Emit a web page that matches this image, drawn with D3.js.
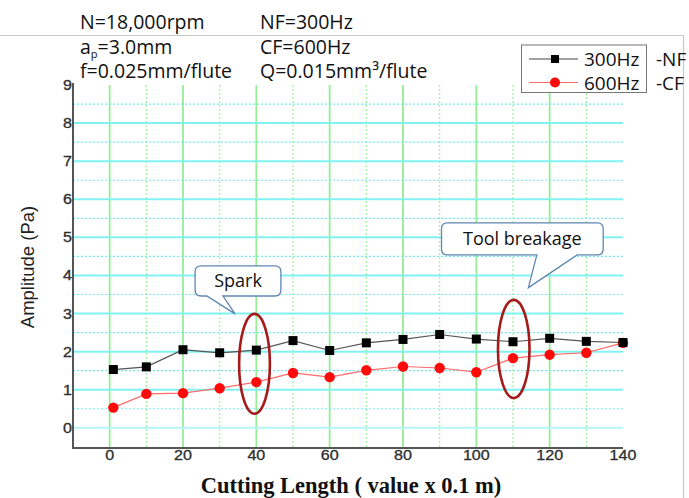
<!DOCTYPE html>
<html>
<head>
<meta charset="utf-8">
<script src="https://cdn.jsdelivr.net/npm/d3@7"></script>
<style>
  body { margin: 0; background: #fff; }
  svg { display: block; }
</style>
</head>
<body>
<div class="wrapper"></div>
<script>
// data
var cutLength = [1, 10, 20, 30, 40, 50, 60, 70, 80, 90, 100, 110, 120, 130, 140];
var amp300 = [1.53, 1.60, 2.05, 1.97, 2.04, 2.29, 2.03, 2.23, 2.32, 2.45, 2.33, 2.26, 2.35, 2.27, 2.24];
var amp600 = [0.53, 0.89, 0.91, 1.04, 1.20, 1.44, 1.33, 1.51, 1.61, 1.57, 1.46, 1.83, 1.92, 1.97, 2.23];
var xTicks = [0, 20, 40, 60, 80, 100, 120, 140];
var yTicks = [0, 1, 2, 3, 4, 5, 6, 7, 8, 9];
var legendLabels = ["300Hz", "600Hz"];
var legendSuffix = ["-NF", "-CF"];
var headerLeft = ["N=18,000rpm", "a_p=3.0mm", "f=0.025mm/flute"];
var headerRight = ["NF=300Hz", "CF=600Hz", "Q=0.015mm³/flute"];

// annotations, in data units: ellipse centre / radii, callout box + tail
var ellipses = [
  {cx: 39.5, cy: 1.68, rx: 4.2, ry: 1.31},
  {cx: 110.2, cy: 2.07, rx: 4.3, ry: 1.29}
];
var callouts = [
  {text: "Spark", x0: 23.3, x1: 46.7, y0: 4.25, y1: 3.46, t0: 26.5, t1: 30.9, tx: 34.2, ty: 2.99},
  {text: "Tool breakage", x0: 90.5, x1: 134.6, y0: 5.38, y1: 4.54, t0: 116.5, t1: 127.5, tx: 114.2, ty: 3.68}
];

var W = 689, H = 498;
var plot = {left: 73, right: 623, top: 85, bottom: 448};

var svg = d3.select(".wrapper")
  .append("svg")
    .attr("width", W)
    .attr("height", H);

var x = d3.scaleLinear().domain([-10, 140]).range([plot.left, plot.right]);
var y = d3.scaleLinear().domain([-0.53, 9]).range([plot.bottom, plot.top]);

// frame lines of the cropped figure
svg.append("path")
    .attr("d", "M0,35.5H683.5V498")
    .attr("fill", "none")
    .attr("stroke", "#c8c8c8")
    .attr("stroke-width", 1.2);

// grid
var grid = svg.append("g");
d3.range(10, 140, 20).forEach(function(v) {
  grid.append("line")
      .attr("x1", x(v)).attr("x2", x(v))
      .attr("y1", y(9)).attr("y2", plot.bottom)
      .attr("stroke", "#9ef29e").attr("stroke-width", 1.2)
      .attr("stroke-dasharray", "2,2");
});
xTicks.slice(0, -1).forEach(function(v) {
  grid.append("line")
      .attr("x1", x(v)).attr("x2", x(v))
      .attr("y1", y(9)).attr("y2", plot.bottom)
      .attr("stroke", "#96ee96").attr("stroke-width", 1.8);
});
d3.range(0.5, 9, 1).forEach(function(v) {
  grid.append("line")
      .attr("x1", plot.left).attr("x2", plot.right)
      .attr("y1", y(v)).attr("y2", y(v))
      .attr("stroke", "#6ff0f0").attr("stroke-width", 1.2)
      .attr("stroke-dasharray", "2,2");
});
yTicks.slice(0, -1).forEach(function(v) {
  grid.append("line")
      .attr("x1", plot.left).attr("x2", plot.right)
      .attr("y1", y(v)).attr("y2", y(v))
      .attr("stroke", v == 0 ? "#b4f6f6" : "#80f2f2").attr("stroke-width", 2);
});

// axes (no tick marks, only labels)
svg.append("line")
    .attr("x1", plot.left).attr("x2", plot.left).attr("y1", plot.top - 2).attr("y2", plot.bottom + 1)
    .attr("stroke", "#555").attr("stroke-width", 2);
svg.append("line")
    .attr("x1", plot.left).attr("x2", plot.right).attr("y1", plot.bottom).attr("y2", plot.bottom)
    .attr("stroke", "#555").attr("stroke-width", 2);

svg.append("g").selectAll("text")
  .data(yTicks)
  .enter().append("text")
    .attr("transform", function(d) { return "translate(72," + (y(d) + 5) + ") scale(1.15,1)"; })
    .attr("text-anchor", "end")
    .style("font", "14px 'Liberation Sans', Arial, sans-serif")
    .style("fill", "#2e2e2e")
    .style("stroke", "#2e2e2e").style("stroke-width", 0.3)
    .text(function(d) { return d; });

svg.append("g").selectAll("text")
  .data(xTicks)
  .enter().append("text")
    .attr("transform", function(d) { return "translate(" + x(d) + ",460) scale(1.15,1)"; })
    .attr("text-anchor", "middle")
    .style("font", "14px 'Liberation Sans', Arial, sans-serif")
    .style("fill", "#2e2e2e")
    .style("stroke", "#2e2e2e").style("stroke-width", 0.3)
    .text(function(d) { return d; });

svg.append("text")
    .attr("x", 351).attr("y", 493)
    .attr("text-anchor", "middle")
    .style("font", "bold 22.5px 'Liberation Serif', 'Times New Roman', serif")
    .style("fill", "#111")
    .text("Cutting Length ( value x 0.1 m)");

svg.append("text")
    .attr("transform", "translate(34,267) rotate(-90)")
    .attr("text-anchor", "middle")
    .style("font", "18.5px 'Liberation Sans', Arial, sans-serif")
    .style("fill", "#222")
    .text("Amplitude (Pa)");

// series
var line = d3.line()
    .x(function(d) { return x(d[0]); })
    .y(function(d) { return y(d[1]); });

var s300 = d3.zip(cutLength, amp300);
var s600 = d3.zip(cutLength, amp600);

svg.append("path")
    .attr("d", line(s600))
    .attr("fill", "none").attr("stroke", "#ff6a6a").attr("stroke-width", 1.2);
svg.append("path")
    .attr("d", line(s300))
    .attr("fill", "none").attr("stroke", "#555").attr("stroke-width", 1.2);

svg.append("g").selectAll("circle")
  .data(s600)
  .enter().append("circle")
    .attr("cx", function(d) { return x(d[0]); })
    .attr("cy", function(d) { return y(d[1]); })
    .attr("r", 5.2)
    .attr("fill", "#ff0a0a");

svg.append("g").selectAll("rect")
  .data(s300)
  .enter().append("rect")
    .attr("x", function(d) { return x(d[0]) - 4.5; })
    .attr("y", function(d) { return y(d[1]) - 4.5; })
    .attr("width", 9).attr("height", 9)
    .attr("fill", "#000");

// annotations
svg.append("g").selectAll("ellipse")
  .data(ellipses)
  .enter().append("ellipse")
    .attr("cx", function(d) { return x(d.cx); })
    .attr("cy", function(d) { return y(d.cy); })
    .attr("rx", function(d) { return x(d.rx) - x(0); })
    .attr("ry", function(d) { return y(0) - y(d.ry); })
    .attr("fill", "none")
    .attr("stroke", "#a51a1a")
    .attr("stroke-width", 2.6);

var call = svg.append("g").selectAll("g")
  .data(callouts)
  .enter().append("g");

call.append("path")
    .attr("d", function(d) {
      var x0 = x(d.x0), x1 = x(d.x1), y0 = y(d.y0), y1 = y(d.y1), r = 6;
      return "M" + (x0 + r) + "," + y0 +
        "H" + (x1 - r) + "Q" + x1 + "," + y0 + " " + x1 + "," + (y0 + r) +
        "V" + (y1 - r) + "Q" + x1 + "," + y1 + " " + (x1 - r) + "," + y1 +
        "H" + x(d.t1) + "L" + x(d.tx) + "," + y(d.ty) + "L" + x(d.t0) + "," + y1 +
        "H" + (x0 + r) + "Q" + x0 + "," + y1 + " " + x0 + "," + (y1 - r) +
        "V" + (y0 + r) + "Q" + x0 + "," + y0 + " " + (x0 + r) + "," + y0 + "Z";
    })
    .attr("fill", "#fff")
    .attr("stroke", "#5f86b0")
    .attr("stroke-width", 1.3);

call.append("text")
    .attr("x", function(d) { return (x(d.x0) + x(d.x1)) / 2; })
    .attr("y", function(d) { return (y(d.y0) + y(d.y1)) / 2 + 6.5; })
    .attr("text-anchor", "middle")
    .style("font", "18px 'Open Sans', sans-serif")
    .style("fill", "#111")
    .text(function(d) { return d.text; });

// header text
var head = svg.append("g")
    .style("font", "19.5px 'Open Sans', sans-serif")
    .style("fill", "#111");
var rows = [29, 54, 78];
headerLeft.forEach(function(t, i) {
  var tx = head.append("text").attr("x", 80).attr("y", rows[i]);
  if (t.indexOf("_p") > 0) {
    tx.append("tspan").text("a");
    tx.append("tspan").attr("dy", 4).style("font-size", "11px").text("p");
    tx.append("tspan").attr("dy", -4).text(t.split("_p")[1]);
  } else {
    tx.text(t);
  }
});
headerRight.forEach(function(t, i) {
  head.append("text").attr("x", 260).attr("y", rows[i]).text(t);
});

// legend
var lg = svg.append("g");
lg.append("rect")
    .attr("x", 521.5).attr("y", 45)
    .attr("width", 125).attr("height", 47.5)
    .attr("fill", "#fff")
    .attr("stroke", "#777").attr("stroke-width", 1);

var legendColor = ["#444", "#ff6a6a"];
legendLabels.forEach(function(lab, i) {
  var ly = 59 + i * 23.5;
  lg.append("line")
      .attr("x1", 529).attr("x2", 578).attr("y1", ly).attr("y2", ly)
      .attr("stroke", legendColor[i]).attr("stroke-width", 1.2);
  if (i == 0) {
    lg.append("rect").attr("x", 551).attr("y", ly - 4).attr("width", 8).attr("height", 8).attr("fill", "#000");
  } else {
    lg.append("circle").attr("cx", 555).attr("cy", ly).attr("r", 5).attr("fill", "#ff0a0a");
  }
  lg.append("text")
      .attr("x", 584).attr("y", ly + 7)
      .style("font", "19px 'Open Sans', sans-serif")
      .style("fill", "#111")
      .text(lab);
  lg.append("text")
      .attr("x", 656).attr("y", ly + 7)
      .style("font", "19px 'Open Sans', sans-serif")
      .style("fill", "#111")
      .text(legendSuffix[i]);
});
</script>
</body>
</html>
